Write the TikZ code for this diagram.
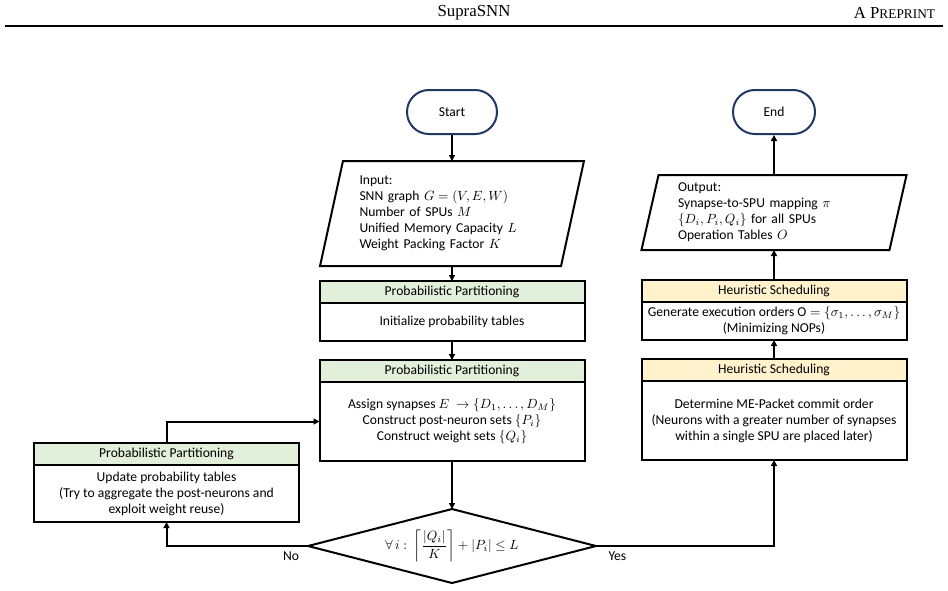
\documentclass[tikz,border=0pt]{standalone}
\usepackage{amsmath}
\usepackage{fontspec}
\setmainfont{Carlito}
\newfontfamily\headfont{Liberation Serif}
\usepackage{tikz}
\usetikzlibrary{shapes,arrows.meta,positioning,calc}
\definecolor{termblue}{RGB}{32,56,100}
\definecolor{pgreen}{RGB}{226,239,218}
\definecolor{hyellow}{RGB}{255,242,204}

\begin{document}
\begin{tikzpicture}[x=0.75pt, y=-0.75pt, thick, font=\fontsize{10.2pt}{12pt}\selectfont,
        term/.style={rectangle, rounded corners=16.4pt, draw=termblue, line width=1.5pt, minimum height=33pt, text centered},
        iobox/.style={rectangle, inner xsep=21pt, inner ysep=0pt, align=left, outer sep=0pt},
        hdr/.style={rectangle, draw, fill=#1, line width=1.5pt, minimum width=198.75pt, minimum height=16.5pt, outer sep=0pt, inner sep=0pt},
        body/.style={rectangle, draw, fill=white, line width=1.5pt, minimum width=198.75pt, align=center, outer sep=0pt, inner sep=0pt},
        cond/.style={diamond, draw, line width=1.5pt, shape aspect=3.9, minimum width=216pt, minimum height=55.5pt, inner sep=0pt, outer sep=0pt},
        arr/.style={-{Triangle[length=4.5pt,width=4.5pt]}, line width=1.5pt}]
        \useasboundingbox (0,0) rectangle (948,590);

        % running head
        \node [font=\headfont\fontsize{12.6pt}{14pt}\selectfont] (title) at (474,13) {SupraSNN};
        \node [font=\headfont\fontsize{12.6pt}{14pt}\selectfont, anchor=east] (tag) at (940,13) {A P{\fontsize{10pt}{12pt}\selectfont REPRINT}};
        \draw [line width=0.8pt] (5,26) -- (943,26);

        % partitioning column
        \node [term, minimum width=67.5pt] (start) at (452,112) {Start};
        \node [iobox, text width=138.75pt, minimum height=78.75pt, below=19.5pt of start] (input)
            {Input:\\ SNN graph $G=(V,E,W)$\\ Number of SPUs $M$\\ Unified Memory Capacity $L$\\ Weight Packing Factor $K$};
        \draw [line width=1.5pt] ([xshift=8.6pt]input.north west) -- ([xshift=8.6pt]input.north east)
            -- ([xshift=-8.6pt]input.south east) -- ([xshift=-8.6pt]input.south west) -- cycle;
        \node [hdr=pgreen, below=11.25pt of input] (ph1) {Probabilistic Partitioning};
        \node [body, minimum height=28.5pt, below=0pt of ph1] (pb1) {Initialize probability tables};
        \node [hdr=pgreen, below=14.25pt of pb1] (ph2) {Probabilistic Partitioning};
        \node [body, minimum height=59.25pt, below=0pt of ph2] (pb2)
            {Assign synapses $E\ \rightarrow\{D_1,\ldots,D_M\}$\\ Construct post-neuron sets $\{P_i\}$\\ Construct weight sets $\{Q_i\}$};
        \node [cond, below=36pt of pb2] (check)
            {$\forall\, i:\ \left\lceil\dfrac{|Q_i|}{K}\right\rceil+|P_i|\le L$};

        % feedback box
        \node [hdr=pgreen] (ph3) at (166.5,454) {Probabilistic Partitioning};
        \node [body, minimum height=42.75pt, below=0pt of ph3] (pb3)
            {Update probability tables\\ (Try to aggregate the post-neurons and\\ exploit weight reuse)};

        % scheduling column
        \node [term, minimum width=61.5pt] (end) at (774,112) {End};
        \node [iobox, text width=144pt, minimum height=56.25pt, below=30pt of end] (output)
            {Output:\\ Synapse-to-SPU mapping $\pi$\\ $\{D_i,P_i,Q_i\}$ for all SPUs\\ Operation Tables $O$};
        \draw [line width=1.5pt] ([xshift=6.4pt]output.north west) -- ([xshift=6.4pt]output.north east)
            -- ([xshift=-6.4pt]output.south east) -- ([xshift=-6.4pt]output.south west) -- cycle;
        \node [hdr=hyellow] (hh1) at (774,291) {Heuristic Scheduling};
        \node [body, minimum height=28.5pt, below=0pt of hh1] (hb1)
            {Generate execution orders $\mathrm{O}=\{\sigma_1,\ldots,\sigma_M\}$\\ (Minimizing NOPs)};
        \node [hdr=hyellow, below=14.25pt of hb1] (hh2) {Heuristic Scheduling};
        \node [body, minimum height=59.25pt, below=0pt of hh2] (hb2)
            {Determine ME-Packet commit order\\ (Neurons with a greater number of synapses\\ within a single SPU are placed later)};

        \draw [arr] (start) -- (input);
        \draw [arr] (input) -- (ph1);
        \draw [arr] (pb1) -- (ph2);
        \draw [arr] (pb2) -- (check);
        \draw [arr] (check.west) -| node [pos=0.06, below] {No} (pb3.south);
        \draw [arr] (ph3.north) |- (pb2.west);
        \draw [arr] (check.east) -| node [pos=0.06, below] {Yes} (hb2.south);
        \draw [arr] (hh2) -- (hb1);
        \draw [arr] (hh1) -- (output);
        \draw [arr] (output) -- (end);
    \end{tikzpicture}
\end{document}
